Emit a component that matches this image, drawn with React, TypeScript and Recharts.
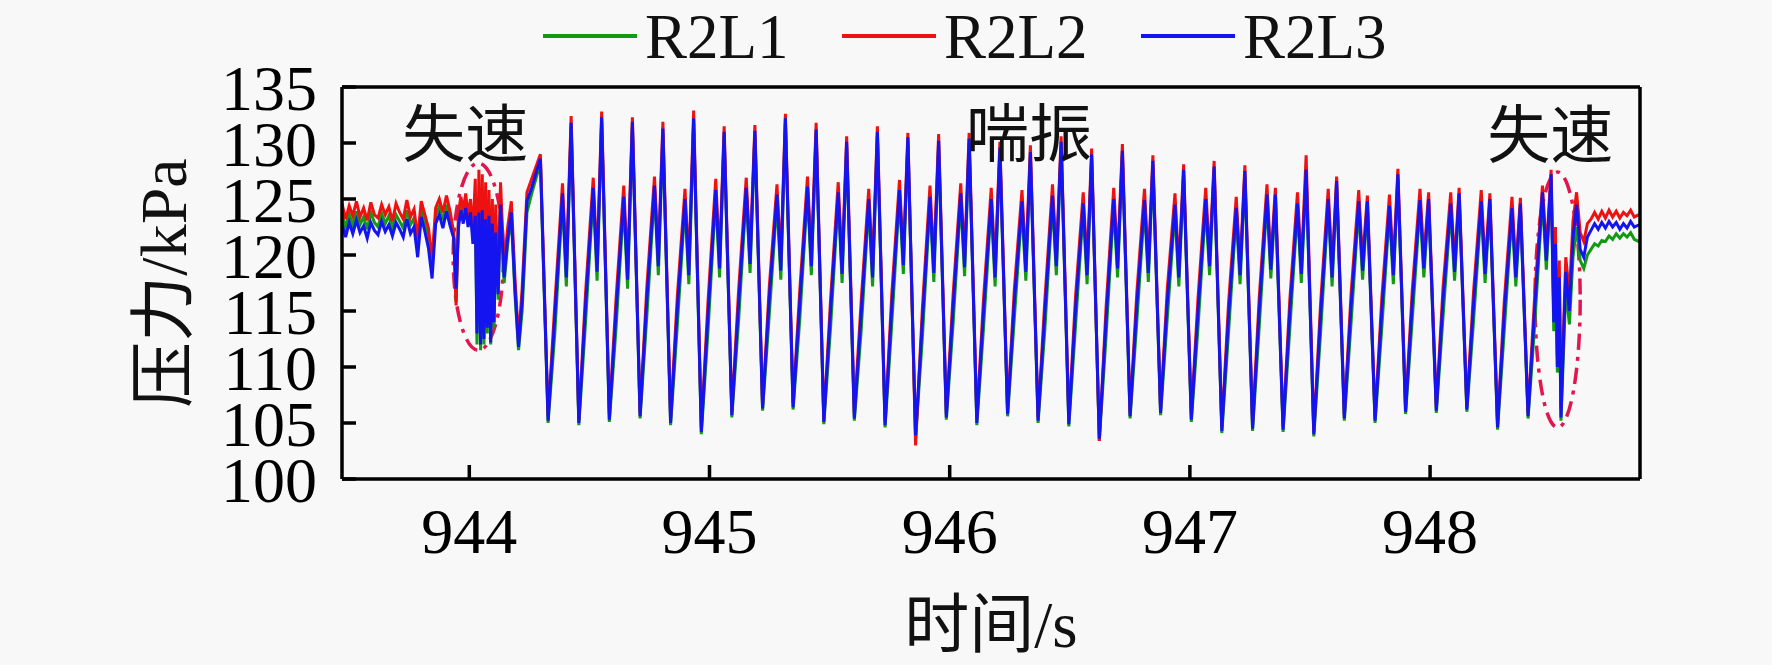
import React from 'react';
import { LineChart, Line, XAxis, YAxis, Legend, ReferenceArea, ReferenceDot } from 'recharts';

// time (s): pre-stall noise, stall, surge cycles (peak, trough, rise, 2nd peak, dip), recovery
const time = [
    943.47, 943.485, 943.5, 943.515, 943.53, 943.545, 943.56, 943.575, 943.59, 943.605,
    943.62, 943.635, 943.65, 943.665, 943.68, 943.695, 943.71, 943.725, 943.74, 943.755,
    943.77, 943.785, 943.8, 943.815, 943.83, 943.845, 943.86, 943.875, 943.89, 943.905,
    943.92,
    943.935, 943.945, 943.955, 943.965, 943.975, 943.985, 943.995, 944.005, 944.015, 944.025,
    944.032, 944.04, 944.047, 944.054, 944.061, 944.068, 944.075, 944.082, 944.089, 944.096,
    944.103, 944.11, 944.12, 944.13, 944.145, 944.16, 944.175, 944.19, 944.205, 944.22,
    944.24, 944.26,
    944.296, 944.328, 944.356, 944.388, 944.404,
    944.424, 944.456, 944.484, 944.516, 944.532,
    944.551, 944.583, 944.611, 944.643, 944.659,
    944.679, 944.711, 944.739, 944.771, 944.787,
    944.806, 944.838, 944.866, 944.898, 944.914,
    944.934, 944.966, 944.994, 945.026, 945.042,
    945.061, 945.093, 945.121, 945.153, 945.169,
    945.189, 945.221, 945.249, 945.281, 945.297,
    945.316, 945.348, 945.376, 945.408, 945.424,
    945.444, 945.476, 945.504, 945.536, 945.552,
    945.571, 945.603, 945.631, 945.663, 945.679,
    945.699, 945.731, 945.759, 945.791, 945.807,
    945.826, 945.858, 945.886, 945.918, 945.934,
    945.954, 945.986, 946.014, 946.046, 946.062,
    946.081, 946.113, 946.141, 946.173, 946.189,
    946.209, 946.241, 946.269, 946.301, 946.317,
    946.336, 946.368, 946.396, 946.428, 946.444,
    946.464, 946.496, 946.524, 946.556, 946.572,
    946.591, 946.623, 946.651, 946.683, 946.699,
    946.719, 946.751, 946.779, 946.811, 946.827,
    946.846, 946.878, 946.906, 946.938, 946.954,
    946.974, 947.006, 947.034, 947.066, 947.082,
    947.101, 947.133, 947.161, 947.193, 947.209,
    947.229, 947.261, 947.289, 947.321, 947.337,
    947.356, 947.388, 947.416, 947.448, 947.464,
    947.484, 947.516, 947.544, 947.576, 947.592,
    947.611, 947.643, 947.671, 947.703, 947.719,
    947.739, 947.771, 947.799, 947.831, 947.847,
    947.866, 947.898, 947.926, 947.958, 947.974,
    947.994, 948.026, 948.054, 948.086, 948.102,
    948.121, 948.153, 948.181, 948.213, 948.229,
    948.249, 948.281, 948.309, 948.341, 948.357,
    948.376, 948.408, 948.436, 948.468, 948.484,
    948.504,
    948.515, 948.522, 948.53, 948.538, 948.545, 948.555, 948.565, 948.58, 948.595, 948.61,
    948.625, 948.64, 948.655, 948.67, 948.685, 948.7, 948.715, 948.73, 948.745, 948.76,
    948.775, 948.79, 948.805, 948.82, 948.835, 948.85, 948.87,
];

// R2L1 pressure (kPa)
const r2l1 = [
    123.6, 122.5, 123.7, 122.6, 123.9, 122.7, 123.4, 122.3, 123.8, 122.9,
    122.5, 123.7, 122.8, 123.5, 122.4, 123.6, 123.0, 122.4, 124.0, 122.7,
    123.3, 120.6, 124.0, 122.8, 121.6, 118.8, 123.5, 124.3, 123.1, 124.5,
    123.2,
    121.8, 115.8, 123.0, 124.5, 123.2, 124.6, 123.0, 124.3, 121.5, 124.5,
    112.0, 124.8, 111.5, 124.6, 112.0, 124.0, 113.0, 124.2, 112.0, 123.5,
    113.5, 122.8, 116.0, 124.8, 117.5, 121.0, 123.5, 116.5, 111.5, 115.0,
    123.8, 125.5,
    128.2, 105.0, 113.0, 125.0, 117.2,
    131.4, 104.8, 114.0, 125.5, 117.7,
    131.9, 105.1, 113.5, 124.7, 117.0,
    131.5, 105.4, 114.5, 125.7, 118.2,
    130.9, 104.8, 113.7, 124.5, 117.4,
    131.8, 104.0, 113.3, 125.3, 118.0,
    130.6, 105.5, 114.1, 125.5, 118.4,
    130.7, 106.1, 114.7, 124.9, 117.8,
    131.8, 106.2, 114.3, 125.6, 118.2,
    130.8, 104.9, 113.5, 125.1, 117.5,
    129.7, 105.2, 113.1, 124.5, 117.2,
    130.6, 104.6, 113.9, 125.3, 118.3,
    130.1, 103.7, 112.5, 124.7, 117.6,
    129.8, 105.3, 113.8, 125.0, 118.1,
    130.0, 104.8, 113.5, 124.5, 117.2,
    129.2, 105.6, 114.3, 124.3, 117.7,
    128.8, 105.0, 113.3, 124.8, 118.2,
    129.7, 104.7, 113.7, 124.1, 117.4,
    128.6, 103.4, 112.7, 124.5, 118.0,
    128.9, 105.4, 114.0, 124.4, 117.6,
    128.0, 105.7, 114.4, 124.0, 117.2,
    127.2, 105.1, 113.6, 124.5, 118.2,
    127.5, 104.1, 113.1, 123.7, 117.4,
    127.1, 104.3, 113.7, 124.9, 117.9,
    125.0, 104.2, 113.4, 124.1, 117.5,
    127.2, 103.8, 113.0, 124.5, 117.2,
    126.2, 105.2, 113.9, 124.3, 117.8,
    124.4, 105.0, 113.5, 123.9, 117.4,
    126.8, 105.8, 114.3, 124.4, 118.0,
    124.6, 105.9, 114.5, 124.1, 117.7,
    125.1, 106.0, 114.1, 124.3, 117.5,
    124.6, 104.4, 113.3, 123.7, 117.2,
    124.2, 105.4, 113.9, 125.1, 118.7,
    126.8,
    113.2, 120.0, 109.5, 117.0, 105.2, 111.0, 117.0, 113.8, 119.8, 122.5,
    119.5, 118.8, 120.0, 120.5, 121.0, 120.8, 121.3, 121.2, 121.7, 121.4,
    121.9, 121.5, 121.9, 121.6, 122.0, 121.4, 121.2,
];

// R2L2 pressure (kPa)
const r2l2 = [
    124.6, 123.2, 124.4, 123.5, 124.8, 123.4, 124.2, 123.1, 124.7, 123.6,
    123.3, 124.5, 123.6, 124.3, 123.0, 124.6, 123.8, 123.2, 124.9, 123.4,
    124.1, 121.5, 124.8, 123.6, 122.4, 119.6, 124.2, 125.0, 123.8, 125.3,
    123.9,
    122.0, 115.5, 123.8, 125.2, 124.0, 125.5, 123.5, 125.0, 122.0, 126.8,
    114.5, 127.6, 113.0, 127.2, 113.8, 126.5, 114.2, 125.8, 113.5, 125.0,
    115.0, 124.5, 117.5, 126.5, 119.0, 122.5, 124.8, 118.0, 112.5, 117.0,
    125.6, 126.8,
    129.0, 105.6, 115.6, 126.4, 118.9,
    132.4, 105.2, 116.6, 126.9, 119.2,
    132.8, 105.8, 116.1, 126.2, 118.7,
    132.3, 105.9, 117.1, 127.0, 119.9,
    131.9, 105.4, 116.3, 125.9, 119.0,
    132.9, 104.6, 115.9, 126.8, 119.6,
    131.5, 106.0, 116.8, 126.9, 120.0,
    131.6, 106.5, 117.2, 126.3, 119.5,
    132.6, 106.8, 116.9, 127.0, 119.8,
    131.8, 105.3, 116.0, 126.5, 119.1,
    130.6, 105.9, 115.7, 125.9, 118.9,
    131.5, 105.1, 116.5, 126.7, 119.9,
    130.9, 103.0, 115.1, 126.2, 119.3,
    130.8, 105.8, 116.4, 126.4, 119.7,
    130.9, 105.4, 116.1, 126.0, 118.8,
    130.1, 106.1, 116.9, 125.8, 119.3,
    129.8, 105.5, 115.9, 126.3, 119.8,
    130.6, 105.3, 116.3, 125.6, 119.0,
    129.5, 103.4, 115.3, 126.0, 119.6,
    129.9, 105.9, 116.6, 125.9, 119.2,
    128.9, 106.2, 117.0, 125.5, 118.8,
    128.1, 105.7, 116.2, 126.0, 119.8,
    128.4, 104.6, 115.7, 125.2, 119.0,
    128.0, 104.9, 116.3, 126.3, 119.5,
    126.0, 104.7, 116.0, 125.6, 119.1,
    128.9, 104.2, 115.6, 125.9, 118.8,
    127.0, 105.7, 116.5, 125.8, 119.4,
    125.3, 105.5, 116.1, 125.4, 119.0,
    127.7, 106.3, 116.9, 125.9, 119.6,
    125.6, 106.4, 117.1, 125.6, 119.3,
    126.0, 106.5, 116.7, 125.8, 119.1,
    125.5, 104.9, 115.9, 125.2, 118.8,
    125.1, 105.9, 116.5, 126.2, 120.3,
    127.6,
    115.0, 122.5, 111.0, 119.5, 106.2, 113.0, 119.8, 116.5, 123.0, 125.6,
    122.0, 121.2, 122.8, 123.2, 123.8, 123.2, 123.9, 123.3, 124.0, 123.4,
    123.9, 123.3, 123.8, 123.5, 124.0, 123.4, 123.6,
];

// R2L3 pressure (kPa)
const r2l3 = [
    122.8, 121.6, 122.9, 121.9, 123.1, 122.0, 122.6, 121.5, 122.9, 122.2,
    121.8, 123.0, 122.1, 122.7, 121.7, 122.9, 122.3, 121.6, 123.2, 121.9,
    122.5, 119.8, 123.4, 122.1, 120.6, 117.9, 122.8, 123.6, 122.4, 123.9,
    122.6,
    121.5, 117.0, 122.5, 124.0, 122.8, 124.2, 122.5, 123.8, 121.0, 123.5,
    113.0, 123.8, 112.0, 124.0, 112.5, 123.2, 113.5, 123.5, 112.2, 122.8,
    114.0, 122.0, 116.5, 124.5, 118.0, 121.5, 123.8, 117.0, 111.8, 116.0,
    124.8, 126.0,
    128.6, 105.2, 114.5, 125.5, 118.0,
    131.8, 105.0, 115.5, 126.0, 118.5,
    132.3, 105.3, 115.0, 125.2, 117.8,
    131.9, 105.6, 116.0, 126.2, 119.0,
    131.3, 105.0, 115.2, 125.0, 118.2,
    132.2, 104.2, 114.8, 125.8, 118.8,
    131.0, 105.7, 115.6, 126.0, 119.2,
    131.1, 106.3, 116.2, 125.4, 118.6,
    132.2, 106.4, 115.8, 126.1, 119.0,
    131.2, 105.1, 115.0, 125.6, 118.3,
    130.1, 105.4, 114.6, 125.0, 118.0,
    131.0, 104.8, 115.4, 125.8, 119.1,
    130.5, 103.9, 114.0, 125.2, 118.4,
    130.2, 105.5, 115.3, 125.5, 118.9,
    130.4, 105.0, 115.0, 125.0, 118.0,
    129.6, 105.8, 115.8, 124.8, 118.5,
    129.2, 105.2, 114.8, 125.3, 119.0,
    130.1, 104.9, 115.2, 124.6, 118.2,
    129.0, 103.6, 114.2, 125.0, 118.8,
    129.3, 105.6, 115.5, 124.9, 118.4,
    128.4, 105.9, 115.9, 124.5, 118.0,
    127.6, 105.3, 115.1, 125.0, 119.0,
    127.9, 104.3, 114.6, 124.2, 118.2,
    127.5, 104.5, 115.2, 125.4, 118.7,
    125.4, 104.4, 114.9, 124.6, 118.3,
    127.6, 104.0, 114.5, 125.0, 118.0,
    126.6, 105.4, 115.4, 124.8, 118.6,
    124.8, 105.2, 115.0, 124.4, 118.2,
    127.2, 106.0, 115.8, 124.9, 118.8,
    125.0, 106.1, 116.0, 124.6, 118.5,
    125.5, 106.2, 115.6, 124.8, 118.3,
    125.0, 104.6, 114.8, 124.2, 118.0,
    124.6, 105.6, 115.4, 125.6, 119.5,
    127.2,
    114.0, 121.0, 110.0, 118.0, 105.5, 112.0, 118.5, 115.0, 121.5, 124.5,
    120.5, 119.8, 121.6, 122.2, 122.8, 122.3, 122.9, 122.4, 123.0, 122.5,
    122.9, 122.3, 122.8, 122.4, 123.0, 122.5, 122.7,
];

const xTicks = [944, 945, 946, 947, 948];
const yTicks = [100, 105, 110, 115, 120, 125, 130, 135];

const notes = [
    { t: 943.983, p: 131, text: '失速' },
    { t: 946.33, p: 131, text: '喘振' },
    { t: 948.5, p: 130.9, text: '失速' },
];

const stallZones = [
    { t1: 943.933, t2: 944.142, p1: 111.5, p2: 128.2 },
    { t1: 948.437, t2: 948.625, p1: 104.6, p2: 127.4 },
];

const data = time.map((t, i) => ({ t, r2l1: r2l1[i], r2l2: r2l2[i], r2l3: r2l3[i] }));

const serif = '"Liberation Serif", "Times New Roman", serif';
const cjk = '"Liberation Serif", "Noto Sans CJK SC", serif';
const tickFont = { fontSize: 64, fontFamily: serif, fill: '#000' };
const frame = { stroke: '#000', strokeWidth: 3.5 };

const LegendRow = (props: any) => {
    const items = props.payload || [];
    return (
        <svg width={1772} height={80} style={{ display: 'block' }}>
            {items.map((e: any, i: number) => {
                const x0 = 543 + i * 299;
                return (
                    <g key={e.value}>
                        <line x1={x0} x2={x0 + 94} y1={36} y2={36} stroke={e.color} strokeWidth={4} />
                        <text x={x0 + 102} y={58} fontFamily={serif} fontSize={63} fill="#111">{e.value}</text>
                    </g>
                );
            })}
        </svg>
    );
};

const XTitle = (props: any) => {
    const vb = props.viewBox;
    return (
        <text x={vb.x + vb.width / 2} y={vb.y + 168} textAnchor="middle" fontFamily={cjk} fontSize={65} fill="#111">
            时间/s
        </text>
    );
};

const YTitle = (props: any) => {
    const vb = props.viewBox;
    const cx = vb.x + 186;
    const cy = vb.y + vb.height / 2;
    return (
        <text x={cx} y={cy} transform={`rotate(-90 ${cx} ${cy})`} textAnchor="middle" fontFamily={cjk} fontSize={66} fill="#111">
            压力/kPa
        </text>
    );
};

const noteShape = (text: string) => (p: any) => (
    <text x={p.cx} y={p.cy} dy={24} textAnchor="middle" fontFamily={cjk} fontSize={63} fill="#111">{text}</text>
);

const ellipseShape = (p: any) => (
    <ellipse cx={p.x + p.width / 2} cy={p.y + p.height / 2} rx={p.width / 2} ry={p.height / 2}
        fill="none" stroke="#e0174e" strokeWidth={3.5} strokeDasharray="16 7 4 7" />
);

const App: React.FC = () => {
    return (
        <div style={{ position: 'absolute', left: 0, top: 0, width: 1772, height: 665, background: '#f8f8f8' }}>
            <LineChart width={1772} height={665} data={data}
                margin={{ top: 86, right: 131, left: 0, bottom: 0 }}>
                <XAxis dataKey="t" type="number" domain={[943.47, 948.874]} ticks={xTicks} interval={0}
                    allowDataOverflow height={186} axisLine={frame} tickLine={frame} tickSize={-14}
                    tickMargin={43} tick={tickFont} label={{ content: XTitle }} />
                <XAxis xAxisId="top" orientation="top" dataKey="t" type="number" domain={[943.47, 948.874]}
                    ticks={xTicks} interval={0} allowDataOverflow height={1} axisLine={frame} tickLine={frame}
                    tickSize={-14} tick={false} />
                <YAxis type="number" domain={[100, 135]} ticks={yTicks} interval={0} allowDataOverflow
                    width={342} axisLine={frame} tickLine={frame} tickSize={-14} tickMargin={39}
                    tick={tickFont} label={{ content: YTitle }} />
                <YAxis yAxisId="right" orientation="right" type="number" domain={[100, 135]} ticks={yTicks}
                    interval={0} allowDataOverflow width={1} axisLine={frame} tickLine={frame} tickSize={-14}
                    tick={false} />
                <Legend content={LegendRow} layout="horizontal" verticalAlign="middle" align="center"
                    wrapperStyle={{ position: 'absolute', left: 0, top: 0, width: 1772, height: 80 }} />
                <Line dataKey="r2l1" name="R2L1" type="linear" stroke="#129a12" strokeWidth={3} dot={false} isAnimationActive={false} />
                <Line dataKey="r2l2" name="R2L2" type="linear" stroke="#ee1111" strokeWidth={3} dot={false} isAnimationActive={false} />
                <Line dataKey="r2l3" name="R2L3" type="linear" stroke="#1414f0" strokeWidth={3} dot={false} isAnimationActive={false} />
                {stallZones.map((z, i) => (
                    <ReferenceArea key={'z' + i} x1={z.t1} x2={z.t2} y1={z.p1} y2={z.p2} shape={ellipseShape} />
                ))}
                {notes.map((n, i) => (
                    <ReferenceDot key={'n' + i} x={n.t} y={n.p} r={0} shape={noteShape(n.text)} />
                ))}
            </LineChart>
        </div>
    );
};

export default App;
